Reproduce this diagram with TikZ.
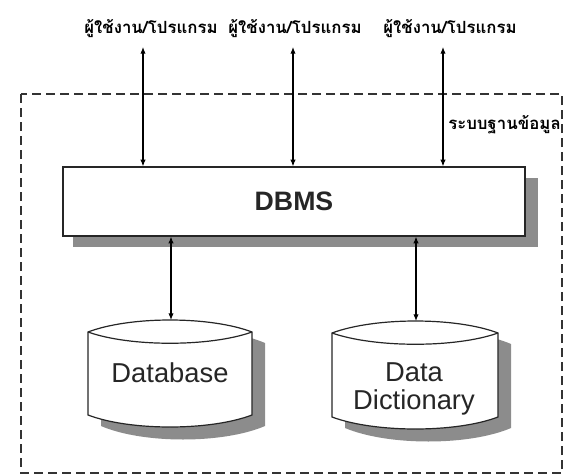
\documentclass[tikz,border=0pt]{standalone}
\usepackage{fontspec}
\setmainfont{Liberation Sans}
\newfontfamily\thaifont[Script=Thai]{Loma}
\usetikzlibrary{arrows.meta}
\tikzset{
  conn/.style={line width=0.8pt, {Latex[length=5pt,width=4pt]}-{Latex[length=5pt,width=4pt]}},
  shadowfill/.style={fill=black!45},
  thaibold/.style={font=\thaifont\bfseries\fontsize{12.6}{14}\selectfont, inner sep=0pt},
  userlabel/.style={thaibold, anchor=base},
  storetext/.style={font=\fontsize{20.5}{21}\selectfont, align=center, text=black!85},
  outline/.style={line width=0.9pt, draw=black!85},
}
\begin{document}
\begin{tikzpicture}[x=0.75pt,y=-0.75pt]
\useasboundingbox (0,0) rectangle (568,475);

% system boundary
\draw[line width=1.3pt, black!80, dash pattern=on 7pt off 3.5pt] (21,94) rectangle (562,473);
\node[thaibold, anchor=base east] (sys) at (561,129) {ระบบฐานข้อมูล};

% users / programs
\node[userlabel] (l1) at (151,33) {ผู้ใช้งาน/โปรแกรม};
\node[userlabel] (l2) at (295,33) {ผู้ใช้งาน/โปรแกรม};
\node[userlabel] (l3) at (450,33) {ผู้ใช้งาน/โปรแกรม};
\coordinate (u1) at (143,47);
\coordinate (u2) at (293,47);
\coordinate (u3) at (443,47);

% DBMS box with shadow
\fill[shadowfill] (73,178) rectangle (538,247);
\node[outline, fill=white, minimum width=346.5pt, minimum height=51.75pt, inner sep=0pt,
      font=\bfseries\fontsize{20}{21}\selectfont, text=black!85] (dbms) at (294,201.5) {DBMS};

\draw[conn] (u1) -- (u1 |- dbms.north);
\draw[conn] (u2) -- (u2 |- dbms.north);
\draw[conn] (u3) -- (u3 |- dbms.north);

% Database store
\fill[shadowfill] (101,343) .. controls (143,325) and (223,325) .. (265,343) -- (265,426)
   .. controls (223,444) and (143,444) .. (101,426) -- cycle;
\filldraw[outline, fill=white] (88,332) .. controls (130,316) and (210,316) .. (252,332) -- (252,415)
   .. controls (210,431) and (130,431) .. (88,415) -- cycle;
\draw[outline] (88,332) .. controls (130,347) and (210,347) .. (252,332);
\coordinate (dbtop) at (171,320);
\node[storetext] (db) at (170,373) {Database};

% Data dictionary store
\fill[shadowfill] (345,344) .. controls (388,326) and (469,326) .. (511,344) -- (511,428)
   .. controls (469,446) and (388,446) .. (345,428) -- cycle;
\filldraw[outline, fill=white] (332,333) .. controls (375,317) and (456,317) .. (498,333) -- (498,417)
   .. controls (456,433) and (375,433) .. (332,417) -- cycle;
\draw[outline] (332,333) .. controls (375,348) and (456,348) .. (498,333);
\coordinate (ddtop) at (416,321);
\node[storetext, font=\fontsize{20.5}{21}\selectfont] (dd) at (414,389) {Data\\Dictionary};

\draw[conn] (dbms.south -| dbtop) -- (dbtop);
\draw[conn] (dbms.south -| ddtop) -- (ddtop);
\end{tikzpicture}
\end{document}
